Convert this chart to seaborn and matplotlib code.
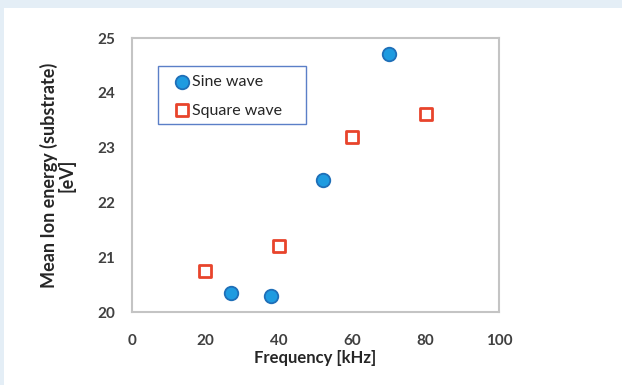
import matplotlib
matplotlib.use("Agg")
import matplotlib.pyplot as plt
import seaborn as sns
import pandas as pd
from matplotlib.patches import Rectangle

sine_freq = [27, 38, 52, 70]
sine_energy = [20.35, 20.3, 22.4, 24.7]
square_freq = [20, 40, 60, 80]
square_energy = [20.75, 21.2, 23.2, 23.62]
x_ticks = [0, 20, 40, 60, 80, 100]
y_ticks = [20, 21, 22, 23, 24, 25]

sns.set_theme(style="white")
plt.rcParams['font.family'] = ['Lato', 'DejaVu Sans']

fig = plt.figure(figsize=(6.22, 3.85), dpi=100)
fig.patch.set_facecolor("white")
# light blue frame bands
fig.patches.append(Rectangle((0, 1 - 8 / 385), 1, 8 / 385, transform=fig.transFigure,
                             facecolor="#e4eef6", edgecolor="none", zorder=0))
fig.patches.append(Rectangle((0, 0), 4 / 622, 1, transform=fig.transFigure,
                             facecolor="#e4eef6", edgecolor="none", zorder=0))

ax = fig.add_axes([132 / 622, 1 - 312 / 385, (499 - 132) / 622, (312 - 38) / 385])

df_sine = pd.DataFrame({"Frequency": sine_freq, "Energy": sine_energy})
df_sq = pd.DataFrame({"Frequency": square_freq, "Energy": square_energy})

sns.scatterplot(data=df_sine, x="Frequency", y="Energy", ax=ax, marker="o", s=95,
                color="#1e9be0", edgecolor="#1f6fb8", linewidth=1.3, label="Sine wave", zorder=3)
sns.scatterplot(data=df_sq, x="Frequency", y="Energy", ax=ax, marker="s", s=85,
                facecolor="white", edgecolor="#e8442c", linewidth=2.0, label="Square wave", zorder=3)

ax.set_xlim(0, 100)
ax.set_ylim(20, 25)
ax.set_xticks(x_ticks)
ax.set_yticks(y_ticks)
ax.set_xticklabels([str(v) for v in x_ticks])
ax.set_yticklabels([str(v) for v in y_ticks])

for sp in ax.spines.values():
    sp.set_color("#c4c4c4")
    sp.set_linewidth(1.5)
ax.tick_params(axis="both", which="major", direction="out", length=4, width=1,
               color="#c4c4c4", labelsize=11, labelcolor="#404040")
for lbl in ax.get_xticklabels() + ax.get_yticklabels():
    lbl.set_fontweight("bold")
ax.tick_params(axis="x", pad=12)
ax.tick_params(axis="y", pad=8)

ax.set_xlabel("Frequency [kHz]", fontsize=12, fontweight="bold", color="#262626", labelpad=1)
ax.set_ylabel("Mean Ion energy (substrate)\n[eV]", fontsize=13, fontweight="bold",
              color="#262626", labelpad=16, linespacing=0.95)

# legend frame
ax.add_patch(Rectangle(((158 - 132) / 367, (312 - 124) / 274), 148 / 367, 58 / 274,
                       transform=ax.transAxes, facecolor="white", edgecolor="#5b7fc7",
                       linewidth=1.0, zorder=4))
leg = ax.legend(loc="center left", bbox_to_anchor=(0.119, 0.788), fontsize=11.5,
                frameon=False, borderpad=0, labelspacing=0.92,
                handletextpad=0.22, handlelength=0.8, borderaxespad=0)
leg.set_zorder(5)
for t in leg.get_texts():
    t.set_color("#262626")

fig.savefig("out.png", dpi=100, facecolor="white")
